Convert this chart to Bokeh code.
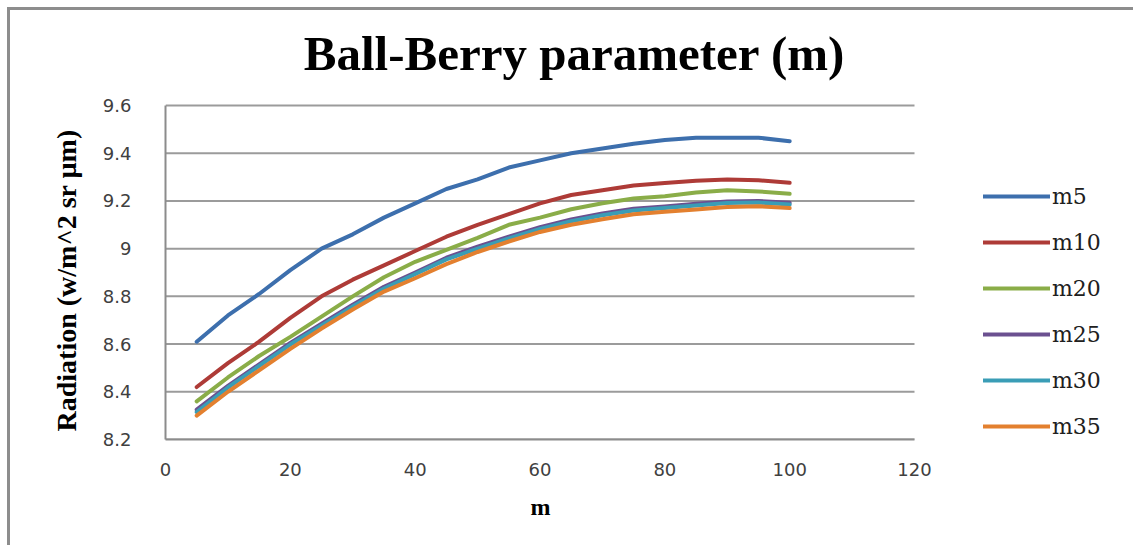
from bokeh.plotting import figure
from bokeh.models import (ColumnDataSource, Legend, LegendItem, FixedTicker,
                          CustomJSTickFormatter, Range1d, Label, Title)
from bokeh.embed import file_html
from bokeh.resources import INLINE

# Ball-Berry slope values on the x axis
m_values = [5, 10, 15, 20, 25, 30, 35, 40, 45, 50,
            55, 60, 65, 70, 75, 80, 85, 90, 95, 100]

# Radiation for each series
m5 = [8.61, 8.72, 8.81, 8.91, 9.00, 9.06, 9.13, 9.19, 9.25, 9.29,
      9.34, 9.37, 9.40, 9.42, 9.44, 9.455, 9.465, 9.465, 9.465, 9.45]
m10 = [8.42, 8.52, 8.61, 8.71, 8.80, 8.87, 8.93, 8.99, 9.05, 9.10,
       9.145, 9.19, 9.225, 9.245, 9.265, 9.275, 9.285, 9.29, 9.287, 9.276]
m20 = [8.36, 8.46, 8.55, 8.63, 8.715, 8.80, 8.88, 8.945, 8.995, 9.045,
       9.10, 9.13, 9.165, 9.19, 9.21, 9.22, 9.235, 9.245, 9.24, 9.23]
m25 = [8.325, 8.425, 8.515, 8.605, 8.685, 8.765, 8.84, 8.90, 8.962, 9.008,
       9.05, 9.09, 9.122, 9.147, 9.167, 9.177, 9.188, 9.198, 9.20, 9.192]
m30 = [8.315, 8.418, 8.508, 8.598, 8.678, 8.758, 8.833, 8.893, 8.955, 9.00,
       9.043, 9.083, 9.115, 9.14, 9.16, 9.17, 9.181, 9.191, 9.193, 9.185]
m35 = [8.30, 8.40, 8.49, 8.58, 8.665, 8.745, 8.82, 8.876, 8.935, 8.986,
       9.03, 9.07, 9.10, 9.123, 9.144, 9.155, 9.164, 9.175, 9.178, 9.17]

series_names = ["m5", "m10", "m20", "m25", "m30", "m35"]
series_values = [m5, m10, m20, m25, m30, m35]
series_colors = ["#3D6FAD", "#AE3B37", "#8AAD48", "#6B5090", "#3A9DB6", "#E3802F"]

x_ticks = [0, 20, 40, 60, 80, 100, 120]
y_ticks = [8.2, 8.4, 8.6, 8.8, 9.0, 9.2, 9.4, 9.6]

# canvas geometry: the plotting frame runs on to the right and top edges so
# the legend and title can sit inside it; axes and grid stop at the end ticks
plot_w, plot_h = 1126, 538
left, bottom = 155, 109
axis_w, axis_h = 749, 334      # pixels covered by the 0..120 and 8.2..9.6 axes
axis_top = 95                  # canvas pixel row of the 9.6 grid line
x_span = x_ticks[-1] - x_ticks[0]
y_span = y_ticks[-1] - y_ticks[0]
x_end = x_ticks[0] + x_span * (plot_w - left) / axis_w
y_end = y_ticks[-1] + y_span * axis_top / axis_h


def px_to_x(px):
    return x_ticks[0] + (px - left) * x_span / axis_w


def py_to_y(py):
    return y_ticks[-1] + (axis_top - py) * y_span / axis_h


p = figure(width=plot_w, height=plot_h, output_backend="svg", toolbar_location=None,
           x_range=Range1d(x_ticks[0], x_end), y_range=Range1d(y_ticks[0], y_end),
           min_border_left=left, min_border_right=0,
           min_border_top=0, min_border_bottom=bottom)

p.styles = {"margin-left": "7px", "margin-top": "7px",
            "border-left": "3px solid #8d8d8d", "border-top": "3px solid #8d8d8d"}

p.background_fill_color = "white"
p.border_fill_color = "white"
p.outline_line_color = None

# chart title
p.add_layout(Label(x=px_to_x(564), y=py_to_y(43), text="Ball-Berry parameter (m)",
                   text_font="Liberation Serif", text_font_size="49px",
                   text_font_style="bold", text_color="black",
                   text_align="center", text_baseline="alphabetic"))

grid_gray = "#9b9b9b"
for ax in (p.xaxis[0], p.yaxis[0]):
    ax.axis_line_color = "#8c8c8c"
    ax.axis_line_width = 2
    ax.major_tick_line_color = None
    ax.minor_tick_line_color = None
    ax.major_label_text_font = "DejaVu Sans"
    ax.major_label_text_font_size = "18px"
    ax.major_label_text_color = "#404040"

p.xaxis.ticker = FixedTicker(ticks=x_ticks)
p.xaxis.bounds = (x_ticks[0], x_ticks[-1])
p.yaxis.ticker = FixedTicker(ticks=y_ticks)
p.yaxis.bounds = (y_ticks[0], y_ticks[-1])
p.yaxis.formatter = CustomJSTickFormatter(code="return (Math.round(tick * 10) / 10).toString();")
p.xaxis.major_label_standoff = 17
p.yaxis.major_label_standoff = 28

# axis titles, placed beside the axes and centred on the 0..120 / 8.2..9.6 spans
p.add_layout(Title(text="m", text_font="Liberation Serif", text_font_size="24px",
                   text_font_style="bold", text_color="black",
                   align="left", offset=365, standoff=27), "below")
p.add_layout(Title(text="Radiation (w/m^2 sr µm)", text_font="Liberation Serif",
                   text_font_size="28px", text_font_style="bold", text_color="black",
                   align="left", offset=8, standoff=36), "left")

# horizontal grid lines spanning only the 0..120 axis
p.xgrid.grid_line_color = None
p.ygrid.grid_line_color = None
p.segment(x0=[x_ticks[0]] * len(y_ticks), x1=[x_ticks[-1]] * len(y_ticks),
          y0=y_ticks, y1=y_ticks, line_color=grid_gray, line_width=2)

items = []
for name, vals, color in zip(series_names, series_values, series_colors):
    src = ColumnDataSource(data=dict(x=m_values, y=vals))
    r = p.line("x", "y", source=src, line_color=color, line_width=4,
               line_join="round", line_cap="round")
    items.append(LegendItem(label=name, renderers=[r]))

legend = Legend(items=items, location=(818, -7), orientation="vertical",
                glyph_width=67, glyph_height=40, label_height=40, spacing=6,
                label_standoff=2, padding=0, margin=0,
                border_line_color=None, background_fill_alpha=0,
                label_text_font="DejaVu Serif", label_text_font_size="22px",
                label_text_color="#202020")
p.add_layout(legend, "center")

open("out.html", "w").write(file_html(p, INLINE))
